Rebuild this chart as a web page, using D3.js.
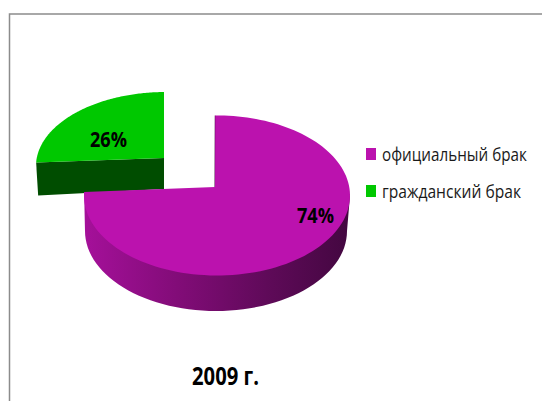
<!DOCTYPE html>
<html lang="ru">
<head>
    <meta charset="UTF-8">
    <title>2009 г.</title>
    <script src="https://d3js.org/d3.v7.min.js"></script>
    <style>
        html, body { margin: 0; padding: 0; background: #fff; }
        svg { display: block; }
        text { font-family: "Open Sans", sans-serif; fill: #000; }
        .pct { font-size: 22px; font-weight: 700; }
        .legend { font-size: 17.5px; fill: #1a1a1a; }
        .year { font-size: 25px; font-weight: 700; }
    </style>
</head>
<body>
<script>
    const categories = ["официальный брак", "гражданский брак"];
    const values = [74, 26];
    const valueLabels = ["74%", "26%"];
    const colors = ["#bb12ae", "#00c800"];
    const yearLabel = "2009 г.";

    const width = 542;
    const height = 401;

    const color = d3.scaleOrdinal().domain(categories).range(colors);
    const arcs = d3.pie().sort(null)(values);

    const svg = d3.select("body").append("svg").attr("width", width).attr("height", height);

    const grad = svg.append("defs").append("linearGradient")
        .attr("id", "side")
        .attr("gradientUnits", "userSpaceOnUse")
        .attr("x1", 84).attr("x2", 350).attr("y1", 0).attr("y2", 0);
    [[0, "#a5109a"], [0.35, "#820c78"], [0.7, "#5e0a58"], [1, "#430740"]].forEach(s => {
        grad.append("stop").attr("offset", s[0]).attr("stop-color", s[1]);
    });

    // frame
    svg.append("path")
        .attr("d", d3.line()([[9.5, height], [9.5, 14], [width, 14]]))
        .attr("fill", "none").attr("stroke", "#8c8c8c").attr("stroke-width", 1.5);

    // the tilted pie has its apex off the centre of the ellipse, so cast rays from it
    function rim(a, e) {
        const dx = Math.sin(a) * e.rx, dy = -Math.cos(a) * e.ry;
        const ox = (e.ax - e.cx) / e.rx, oy = (e.ay - e.cy) / e.ry;
        const ux = dx / e.rx, uy = dy / e.ry;
        const A = ux * ux + uy * uy, B = 2 * (ox * ux + oy * uy), C = ox * ox + oy * oy - 1;
        const t = (-B + Math.sqrt(B * B - 4 * A * C)) / (2 * A);
        return [e.ax + dx * t, e.ay + dy * t];
    }

    function slicePoints(d, e) {
        const n = 120;
        const pts = d3.range(n + 1).map(i => rim(d.startAngle + (d.endAngle - d.startAngle) * i / n, e));
        return pts;
    }

    // squeeze a text sideways to the narrow face of the original
    function squeeze(sel, x, y, w) {
        sel.each(function(d, i) {
            const k = w(d, i) / this.getComputedTextLength();
            d3.select(this).attr("transform", `translate(${x(d, i)},${y(d, i)}) scale(${k},1)`);
        });
    }

    const line = d3.line();
    const bigTop = {cx: 217, cy: 195.5, rx: 133, ry: 80, ax: 215, ay: 187};
    const bigBase = {cx: 216, cy: 231, rx: 131, ry: 80};
    const smallTop = {cx: 166, cy: 166, rx: 130, ry: 74, ax: 164, ay: 158};
    const smallDepth = 32;

    // green slice, pulled out
    const smallPts = slicePoints(arcs[1], smallTop);
    const s0 = smallPts[0];
    svg.append("path")
        .attr("d", line([s0, [smallTop.ax, smallTop.ay], [smallTop.ax, smallTop.ay + smallDepth - 1], [s0[0] + 2, s0[1] + smallDepth + 1]]) + "Z")
        .attr("fill", "#004d00");
    svg.append("path")
        .attr("d", line([[smallTop.ax, smallTop.ay]].concat(smallPts)) + "Z")
        .attr("fill", color(categories[1]));

    // big slice: side wall first, then the top
    const bigPts = slicePoints(arcs[0], bigTop);
    const baseArc = d3.range(0, 61).map(i => {
        const t = Math.PI * i / 60;
        return [bigBase.cx - Math.cos(t) * bigBase.rx, bigBase.cy + Math.sin(t) * bigBase.ry];
    });
    const leftEnd = bigPts[bigPts.length - 1];
    svg.append("path")
        .attr("d", line([leftEnd].concat(baseArc, [[bigTop.cx + bigTop.rx, bigTop.cy]])) + "Z")
        .attr("fill", "url(#side)");
    svg.append("path")
        .attr("d", line([[bigTop.ax, bigTop.ay]].concat(bigPts)) + "Z")
        .attr("fill", color(categories[0]));
    svg.append("path")
        .attr("d", line([[bigTop.ax - 0.5, bigTop.ay], bigPts[0]]))
        .attr("stroke", "#4a0845").attr("stroke-opacity", 0.5).attr("fill", "none");

    // value labels
    svg.selectAll("text.pct")
        .data(valueLabels)
        .join("text")
        .attr("class", "pct")
        .text(d => d)
        .call(squeeze, (d, i) => [297, 90][i], (d, i) => [223, 147][i], () => 37);

    // legend
    svg.selectAll("rect.key")
        .data(categories)
        .join("rect")
        .attr("class", "key")
        .attr("x", 366).attr("y", (d, i) => 148 + i * 37)
        .attr("width", 10).attr("height", 12)
        .attr("fill", d => color(d));
    svg.selectAll("text.legend")
        .data(categories)
        .join("text")
        .attr("class", "legend")
        .text(d => d)
        .call(squeeze, () => 382, (d, i) => 160.5 + i * 37, (d, i) => [145, 139][i]);

    svg.append("text")
        .datum(yearLabel)
        .attr("class", "year")
        .text(d => d)
        .call(squeeze, () => 192, () => 385, () => 67);
</script>
</body>
</html>
